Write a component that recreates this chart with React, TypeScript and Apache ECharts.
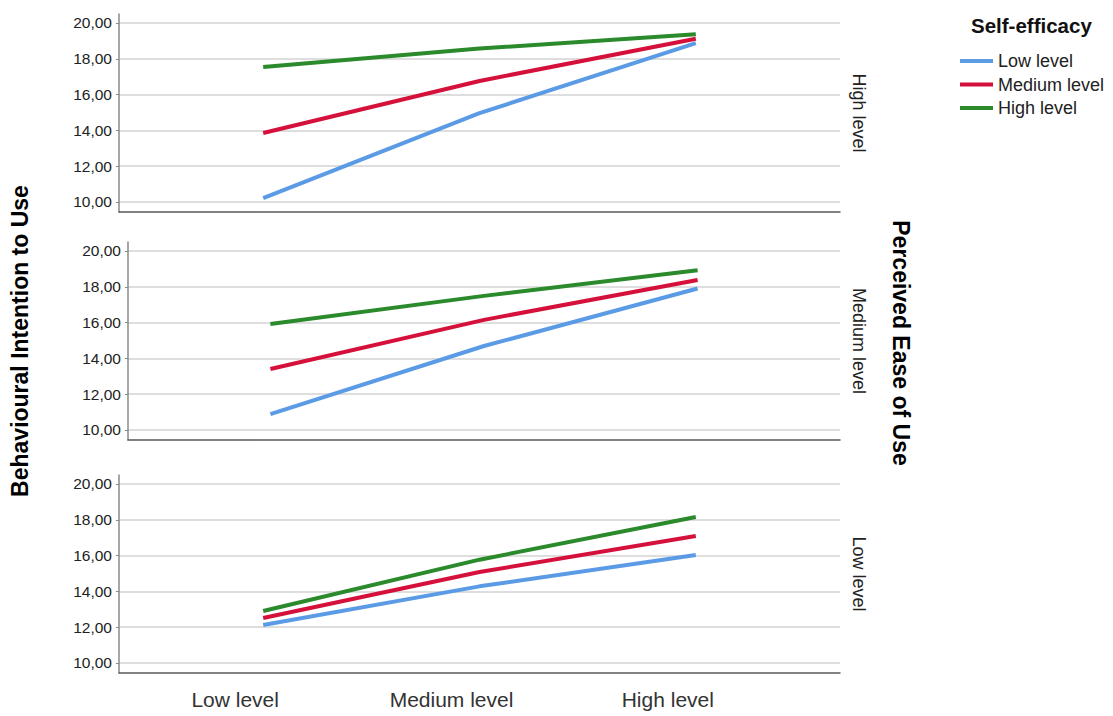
import React, { useEffect, useRef } from "react";
import * as echarts from "echarts";

// Categories
const xCategories = ["Low level", "Medium level", "High level"]; // x axis levels
const seLevels = ["Low level", "Medium level", "High level"]; // Self-efficacy (legend)
const panelLabels = ["High level", "Medium level", "Low level"]; // Perceived Ease of Use panels
const yTicks = [10, 12, 14, 16, 18, 20];

// Values per panel (Perceived Ease of Use) and self-efficacy level
const peouHigh_seLow = [10.22, 14.96, 18.87];
const peouHigh_seMed = [13.85, 16.76, 19.12];
const peouHigh_seHigh = [17.54, 18.57, 19.37];

const peouMed_seLow = [10.89, 14.69, 17.9];
const peouMed_seMed = [13.41, 16.15, 18.38];
const peouMed_seHigh = [15.92, 17.49, 18.92];

const peouLow_seLow = [12.12, 14.28, 16.03];
const peouLow_seMed = [12.51, 15.08, 17.09];
const peouLow_seHigh = [12.9, 15.77, 18.15];

const panelData = [
  [peouHigh_seLow, peouHigh_seMed, peouHigh_seHigh],
  [peouMed_seLow, peouMed_seMed, peouMed_seHigh],
  [peouLow_seLow, peouLow_seMed, peouLow_seHigh],
];

const colors = ["#5b9be6", "#d5103a", "#2b8a2b"];
const FONT = "'Liberation Sans', Arial, sans-serif";

export default function App() {
  const ref = useRef<HTMLDivElement>(null);

  useEffect(() => {
    document.body.style.margin = "0";
    if (!ref.current) return;
    const chart = echarts.init(ref.current, undefined, { renderer: "svg" });

    const panelTops = [14, 242, 475];
    const panelHeight = 198;

    const grids = panelTops.map((t) => ({
      left: 119,
      width: 721,
      top: t,
      height: panelHeight,
      containLabel: false,
    }));

    const xAxes = panelTops.map((_, i) => ({
      type: "value",
      gridIndex: i,
      min: 1 / 3,
      max: 11 / 3,
      axisLine: { show: true, lineStyle: { color: "#5a5a5a", width: 1.5 } },
      axisTick: { show: false },
      splitLine: { show: false },
      axisLabel: {
        show: i === 2,
        customValues: [1, 2, 3],
        formatter: (v: number) => xCategories[Math.round(v) - 1] ?? "",
        fontFamily: FONT,
        fontSize: 21,
        color: "#333",
        margin: 16,
        padding: [0, 56, 0, 0],
      },
    }));

    const yAxes = panelTops.map((_, i) => ({
      type: "value",
      gridIndex: i,
      min: 9.44,
      max: 20.5,
      axisLine: { show: true, lineStyle: { color: "#8a8a8a", width: 1.5 } },
      axisTick: { show: true, length: 3, customValues: yTicks, lineStyle: { color: "#8a8a8a" } },
      splitLine: { show: true, lineStyle: { color: "#d3d3d3", width: 1.5 } },
      axisLabel: {
        customValues: yTicks,
        formatter: (v: number) => v.toFixed(2).replace(".", ","),
        fontFamily: FONT,
        fontSize: 15.5,
        color: "#222",
        margin: 7,
      },
      name: i === 1 ? "Behavioural Intention to Use" : "",
      nameLocation: "middle",
      nameGap: 97,
      nameRotate: 90,
      nameTextStyle: { fontFamily: FONT, fontSize: 23, fontWeight: "bold", color: "#000" },
    }));

    const series: any[] = [];
    panelData.forEach((panel, i) => {
      panel.forEach((vals, j) => {
        series.push({
          type: "line",
          name: seLevels[j],
          xAxisIndex: i,
          yAxisIndex: i,
          data: vals.map((v, k) => [k + 1, v]),
          symbol: "none",
          lineStyle: { width: 4, color: colors[j] },
          itemStyle: { color: colors[j] },
          z: 3 + j,
        });
      });
    });

    const panelCenters = panelTops.map((t) => t + panelHeight / 2);

    chart.setOption({
      animation: false,
      title: {
        text: "Self-efficacy",
        left: 966,
        top: 10,
        textStyle: { fontFamily: FONT, fontSize: 20.5, fontWeight: "bold", color: "#111" },
      },
      legend: {
        orient: "vertical",
        left: 960,
        top: 51,
        padding: 0,
        data: seLevels,
        icon: "rect",
        itemWidth: 33,
        itemHeight: 4,
        itemGap: 3.5,
        textStyle: { fontFamily: FONT, fontSize: 18, color: "#222", lineHeight: 20 },
      },
      grid: grids,
      xAxis: xAxes,
      yAxis: yAxes,
      series,
      graphic: [
        ...panelLabels.map((label, i) => ({
          type: "text",
          x: 859,
          y: panelCenters[i],
          rotation: -Math.PI / 2,
          style: {
            text: label,
            fontFamily: FONT,
            fontSize: 18,
            fill: "#222",
            align: "center",
            verticalAlign: "middle",
          },
        })),
        {
          type: "text",
          x: 901,
          y: 343,
          rotation: -Math.PI / 2,
          style: {
            text: "Perceived Ease of Use",
            fontFamily: FONT,
            fontSize: 23,
            fontWeight: "bold",
            fill: "#000",
            align: "center",
            verticalAlign: "middle",
          },
        },
      ],
    });

    return () => chart.dispose();
  }, []);

  return <div ref={ref} style={{ width: 1113, height: 716 }} />;
}
